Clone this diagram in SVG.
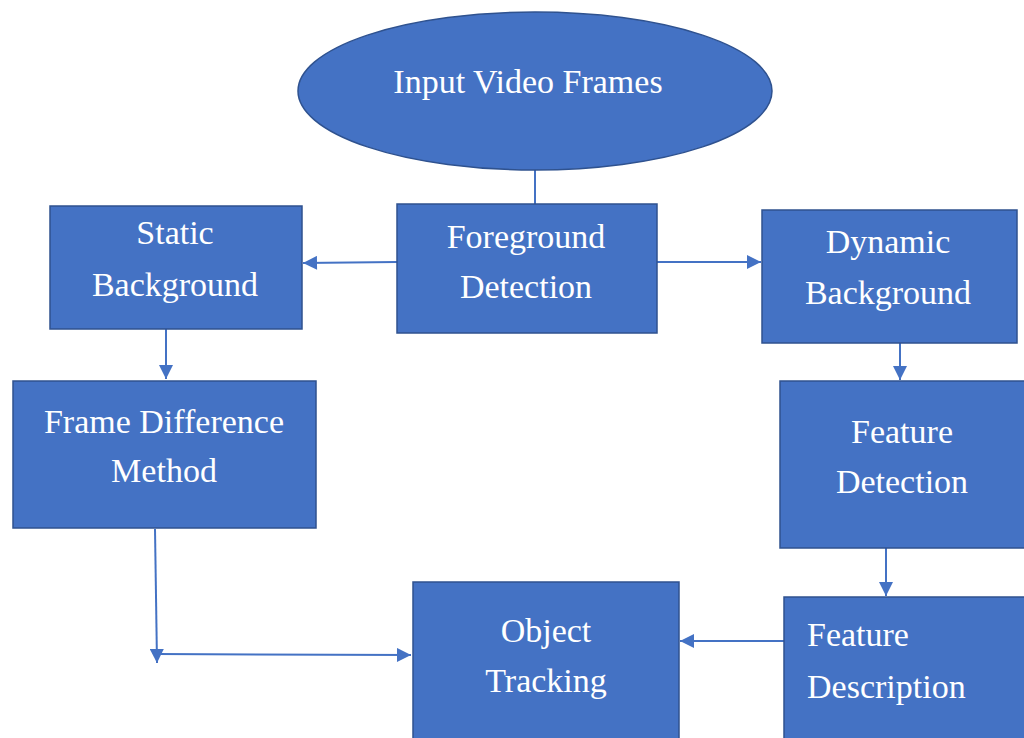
<svg xmlns="http://www.w3.org/2000/svg" width="1024" height="738" viewBox="0 0 1024 738">
<style>
.n{fill:#4472C4;stroke:#2F528F;stroke-width:1.5}
.t{font-family:"Liberation Serif","Times New Roman",serif;font-size:34px;fill:#ffffff;text-anchor:middle}
.tl{text-anchor:start}
.c{fill:none;stroke:#4472C4;stroke-width:2}
</style>
<defs>
<marker id="ah" viewBox="0 0 10 10" refX="10" refY="5" markerWidth="15" markerHeight="14" markerUnits="userSpaceOnUse" orient="auto"><path d="M0,0 L10,5 L0,10 z" fill="#4472C4"/></marker>
</defs>
<rect width="1024" height="738" fill="#ffffff"/>
<g id="connectors">
<line class="c" x1="535" y1="170" x2="535" y2="204"/>
<line class="c" x1="397" y1="262" x2="303" y2="263" marker-end="url(#ah)"/>
<line class="c" x1="657" y1="262" x2="761" y2="262" marker-end="url(#ah)"/>
<line class="c" x1="166" y1="329" x2="166" y2="379" marker-end="url(#ah)"/>
<line class="c" x1="900" y1="343" x2="900" y2="380" marker-end="url(#ah)"/>
<line class="c" x1="886" y1="548" x2="886" y2="596" marker-end="url(#ah)"/>
<line class="c" x1="784" y1="641" x2="680" y2="641" marker-end="url(#ah)"/>
<line class="c" x1="155" y1="529" x2="157" y2="663" marker-end="url(#ah)"/>
<line class="c" x1="157" y1="654" x2="411" y2="655" marker-end="url(#ah)"/>
</g>
<g id="input">
<ellipse class="n" cx="535" cy="91" rx="237" ry="79"/>
<text class="t" x="528" y="93">Input Video Frames</text>
</g>
<g id="foreground">
<rect class="n" x="397" y="204" width="260" height="129"/>
<text class="t" x="526" y="248">Foreground</text>
<text class="t" x="526" y="298">Detection</text>
</g>
<g id="static">
<rect class="n" x="50" y="206" width="252" height="123"/>
<text class="t" x="175" y="244">Static</text>
<text class="t" x="175" y="296">Background</text>
</g>
<g id="dynamic">
<rect class="n" x="762" y="210" width="255" height="133"/>
<text class="t" x="888" y="253">Dynamic</text>
<text class="t" x="888" y="304">Background</text>
</g>
<g id="framediff">
<rect class="n" x="13" y="381" width="303" height="147"/>
<text class="t" x="164" y="433">Frame Difference</text>
<text class="t" x="164" y="482">Method</text>
</g>
<g id="featdet">
<rect class="n" x="780" y="381" width="250" height="167"/>
<text class="t" x="902" y="443">Feature</text>
<text class="t" x="902" y="493">Detection</text>
</g>
<g id="featdesc">
<rect class="n" x="784" y="597" width="250" height="150"/>
<text class="t tl" x="807" y="646">Feature</text>
<text class="t tl" x="807" y="698">Description</text>
</g>
<g id="tracking">
<rect class="n" x="413" y="582" width="266" height="165"/>
<text class="t" x="546" y="642">Object</text>
<text class="t" x="546" y="692">Tracking</text>
</g>
</svg>
